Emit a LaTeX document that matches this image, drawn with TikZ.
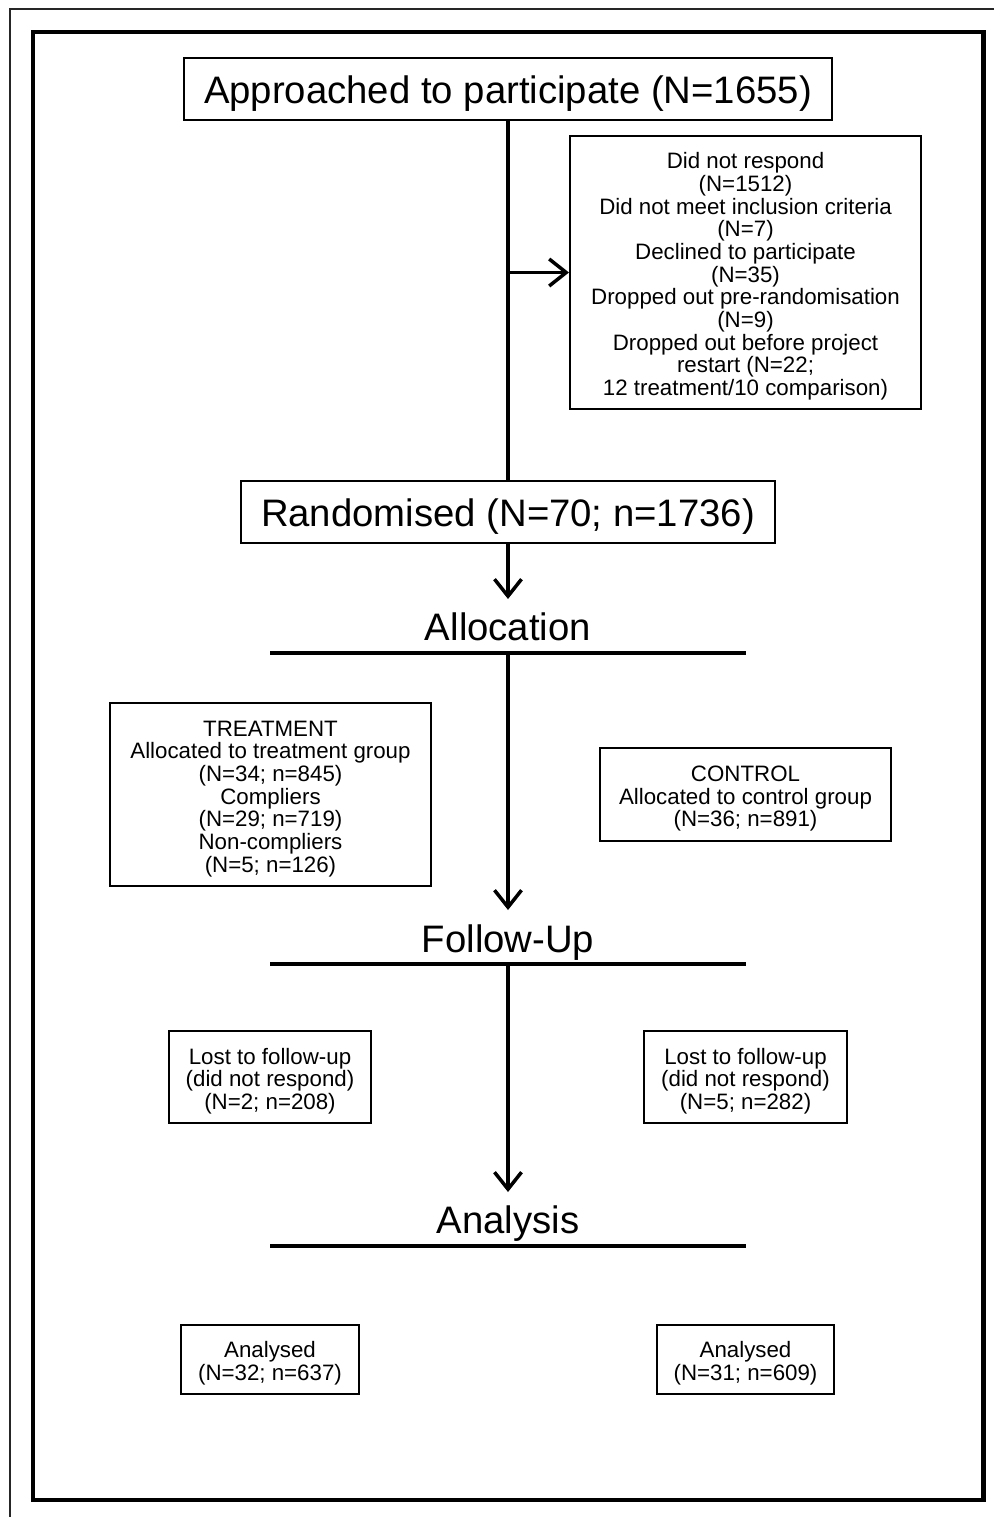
\documentclass[tikz,border=0pt]{standalone}
\usepackage{fontspec}
\setmainfont{Liberation Sans}
\usetikzlibrary{arrows.meta}
\newcommand{\topst}{\rule{0pt}{24pt}}
\newcommand{\bigst}{\rule{0pt}{36pt}}
\begin{document}
\begin{tikzpicture}[x=1pt,y=-1pt,
  box/.style={draw=black,line width=2pt,inner sep=0pt,align=center,font=\fontsize{22.3}{22.7}\selectfont},
  bigbox/.style={draw=black,line width=2pt,inner sep=0pt,align=center,font=\fontsize{38.3}{40}\selectfont},
  head/.style={anchor=base,inner sep=0pt,font=\fontsize{38.3}{40}\selectfont},
  flow/.style={line width=3.5pt},
  arr/.style={line width=3.5pt,-{Straight Barb[length=17pt,width=27pt]}},
  rulel/.style={line width=4pt}]
\useasboundingbox (0,0) rectangle (994,1517);
% frames
\draw[line width=2pt,black!85] (994,9) -- (9.5,9) -- (9.5,1517);
\draw[line width=4.5pt] (33,32) rectangle (983.5,1500);
% boxes
\node[bigbox,minimum width=648pt,minimum height=62pt] (appr) at (508,89) {\bigst Approached to participate (N=1655)};
\node[box,minimum width=351pt,minimum height=273pt] (drop) at (745.5,272.5) {\topst Did not respond\\(N=1512)\\Did not meet inclusion criteria\\(N=7)\\Declined to participate\\(N=35)\\Dropped out pre-randomisation\\(N=9)\\Dropped out before project\\restart (N=22;\\12 treatment/10 comparison)};
\node[bigbox,minimum width=534pt,minimum height=62pt] (rand) at (508,512) {\bigst Randomised (N=70; n=1736)};
\node[head] (alloc) at (508,640) {Allocation};
\node[box,minimum width=321pt,minimum height=183pt] (treat) at (270.5,794.5) {\topst TREATMENT\\Allocated to treatment group\\(N=34; n=845)\\Compliers\\(N=29; n=719)\\Non-compliers\\(N=5; n=126)};
\node[box,minimum width=291pt,minimum height=93pt] (ctrl) at (745.5,794.5) {\topst CONTROL\\Allocated to control group\\(N=36; n=891)};
\node[head] (follow) at (508,952) {Follow-Up};
\node[box,minimum width=202pt,minimum height=92pt] (lostT) at (270,1077) {\topst Lost to follow-up\\(did not respond)\\(N=2; n=208)};
\node[box,minimum width=203pt,minimum height=92pt] (lostC) at (745.5,1077) {\topst Lost to follow-up\\(did not respond)\\(N=5; n=282)};
\node[head] (anal) at (508,1233) {Analysis};
\node[box,minimum width=178pt,minimum height=69pt] (anT) at (270,1359.5) {\topst Analysed\\(N=32; n=637)};
\node[box,minimum width=177pt,minimum height=69pt] (anC) at (745.5,1359.5) {\topst Analysed\\(N=31; n=609)};
% coordinates
\coordinate (j1) at (508,272.5);
\coordinate (t1) at (508,599);
\coordinate (aL) at (270,653);
\coordinate (aR) at (746,653);
\coordinate (aM) at (508,653);
\coordinate (t2) at (508,910);
\coordinate (fL) at (270,964);
\coordinate (fR) at (746,964);
\coordinate (fM) at (508,964);
\coordinate (t3) at (508,1192);
\coordinate (nL) at (270,1246);
\coordinate (nR) at (746,1246);
% connectors
\draw[flow] (appr.south) -- (rand.north);
\draw[arr] (j1) -- (drop.west);
\draw[arr] (rand.south) -- (t1);
\draw[rulel] (aL) -- (aR);
\draw[arr] (aM) -- (t2);
\draw[rulel] (fL) -- (fR);
\draw[arr] (fM) -- (t3);
\draw[rulel] (nL) -- (nR);
\end{tikzpicture}
\end{document}
